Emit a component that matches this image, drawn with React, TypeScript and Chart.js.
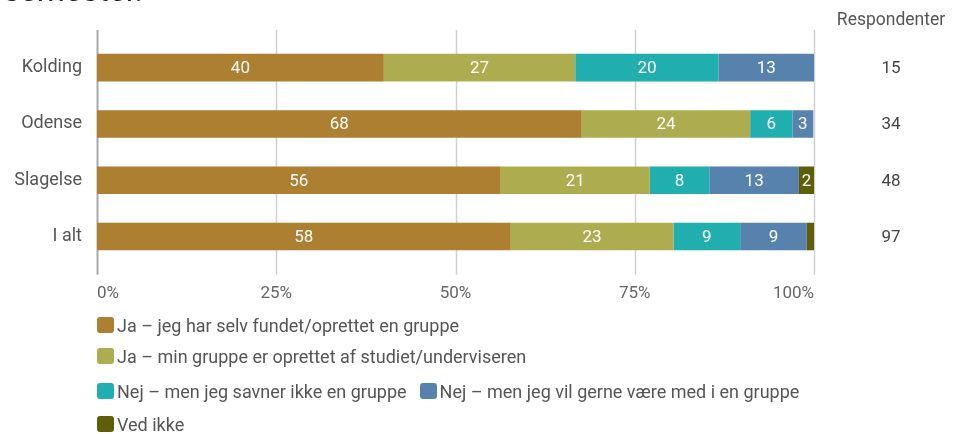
import React, { useEffect, useRef } from "react";
import { Chart, registerables } from "chart.js";

Chart.register(...registerables);

const titleText = "semester.";
const categories = ["Kolding", "Odense", "Slagelse", "I alt"];
const respondents = [15, 34, 48, 97];
const respondentsHeader = "Respondenter";
const seriesNames = [
  "Ja – jeg har selv fundet/oprettet en gruppe",
  "Ja – min gruppe er oprettet af studiet/underviseren",
  "Nej – men jeg savner ikke en gruppe",
  "Nej – men jeg vil gerne være med i en gruppe",
  "Ved ikke",
];
const jaSelv = [40, 67.6, 56.3, 57.7];
const jaStudiet = [26.7, 23.5, 20.8, 22.7];
const nejSavnerIkke = [20, 5.9, 8.3, 9.3];
const nejVilGerne = [13.3, 2.9, 12.5, 9.3];
const vedIkke = [0, 0, 2.1, 1.0];
const xTicks = [0, 25, 50, 75, 100];
const colors = ["#AD7F30", "#ADAD50", "#20AEAE", "#5882AE", "#5E5E08"];
const legendRows = [[0], [1], [2, 3], [4]];

const FONT = "Roboto, 'Noto Sans', sans-serif";

const gridPlugin = {
  id: "gridLines",
  beforeDatasetsDraw(chart: any) {
    const { ctx, chartArea, scales } = chart;
    const xs = scales.x;
    ctx.save();
    xTicks.forEach((v) => {
      const x = Math.round(xs.getPixelForValue(v)) + 0.5;
      ctx.beginPath();
      ctx.strokeStyle = v === 0 ? "#a8a8a8" : "#d0d0d0";
      ctx.lineWidth = v === 0 ? 2 : 1.5;
      ctx.moveTo(x, chartArea.top - 9.5);
      ctx.lineTo(x, chartArea.bottom + 10);
      ctx.stroke();
    });
    ctx.restore();
  },
};

const valueLabelPlugin = {
  id: "valueLabels",
  afterDatasetsDraw(chart: any) {
    const { ctx } = chart;
    ctx.save();
    ctx.font = `17px ${FONT}`;
    ctx.fillStyle = "#ffffff";
    ctx.textAlign = "center";
    ctx.textBaseline = "middle";
    chart.data.datasets.forEach((ds: any, di: number) => {
      const meta = chart.getDatasetMeta(di);
      meta.data.forEach((el: any, i: number) => {
        const v = ds.data[i];
        const w = Math.abs(el.x - el.base);
        if (!v || w < 12) return;
        ctx.fillText(String(Math.round(v)), (el.x + el.base) / 2, el.y + 1);
      });
    });
    ctx.restore();
  },
};

const extrasPlugin = {
  id: "extras",
  afterDraw(chart: any) {
    const { ctx, scales } = chart;
    ctx.save();
    // cut-off title
    ctx.font = `32px ${FONT}`;
    ctx.fillStyle = "#222222";
    ctx.textAlign = "right";
    ctx.textBaseline = "alphabetic";
    ctx.fillText(titleText, 143, 0.5);
    // respondents column
    ctx.font = `17.5px ${FONT}`;
    ctx.fillStyle = "#555555";
    ctx.textAlign = "center";
    ctx.textBaseline = "middle";
    ctx.fillText(respondentsHeader, 891, 21);
    ctx.font = `17px ${FONT}`;
    ctx.fillStyle = "#444444";
    respondents.forEach((r, i) => {
      ctx.fillText(String(r), 891, scales.y.getPixelForValue(i) + 1);
    });
    ctx.restore();
  },
};

export default function App() {
  const ref = useRef<HTMLCanvasElement | null>(null);

  useEffect(() => {
    if (!ref.current) return;
    const seriesData = [jaSelv, jaStudiet, nejSavnerIkke, nejVilGerne, vedIkke];
    const chart = new Chart(ref.current, {
      type: "bar",
      data: {
        labels: categories,
        datasets: seriesData.map((d, i) => ({
          label: seriesNames[i],
          data: d,
          backgroundColor: colors[i],
          borderWidth: 0,
          barPercentage: 0.49,
          categoryPercentage: 1,
        })),
      },
      options: {
        indexAxis: "y",
        responsive: false,
        animation: false,
        devicePixelRatio: 1,
        layout: { padding: { left: 0, top: 39.5, right: 142, bottom: 129.3 } },
        plugins: {
          legend: { display: false },
          tooltip: { enabled: false },
        },
        scales: {
          x: {
            stacked: true,
            min: 0,
            max: 100,
            afterBuildTicks: (s: any) => {
              s.ticks = xTicks.map((v) => ({ value: v }));
            },
            afterFit: (s: any) => {
              s.height = 40;
            },
            grid: { display: false, drawTicks: false },
            border: { display: false },
            ticks: {
              align: "inner",
              padding: 19,
              color: "#666666",
              font: { family: FONT, size: 17 },
              callback: (v: any) => `${v}%`,
            },
          },
          y: {
            stacked: true,
            afterFit: (s: any) => {
              s.width = 97;
            },
            grid: { display: false, drawTicks: false },
            border: { display: false },
            ticks: {
              padding: 15,
              color: "#555555",
              font: { family: FONT, size: 18 },
            },
          },
        },
      },
      plugins: [gridPlugin, valueLabelPlugin, extrasPlugin],
    } as any);
    return () => chart.destroy();
  }, []);

  const rowTops = [315, 346, 381, 414];

  return (
    <div style={{ position: "fixed", left: 0, top: 0, width: 956, height: 434, background: "#fff", overflow: "hidden" }}>
      <canvas ref={ref} width={956} height={434} style={{ position: "absolute", left: 0, top: 0, width: 956, height: 434 }} />
      {legendRows.map((row, ri) => (
        <div
          key={ri}
          style={{
            position: "absolute",
            left: 97,
            top: rowTops[ri],
            height: 20,
            display: "flex",
            alignItems: "center",
            fontFamily: FONT,
            fontSize: 18,
            color: "#555555",
            whiteSpace: "nowrap",
          }}
        >
          {row.map((si) => (
            <span key={si} style={{ display: "inline-flex", alignItems: "center", marginRight: 13 }}>
              <span
                style={{
                  display: "inline-block",
                  width: 17,
                  height: 16,
                  borderRadius: 3,
                  background: colors[si],
                  marginRight: 3,
                }}
              />
              <span>{seriesNames[si]}</span>
            </span>
          ))}
        </div>
      ))}
    </div>
  );
}
